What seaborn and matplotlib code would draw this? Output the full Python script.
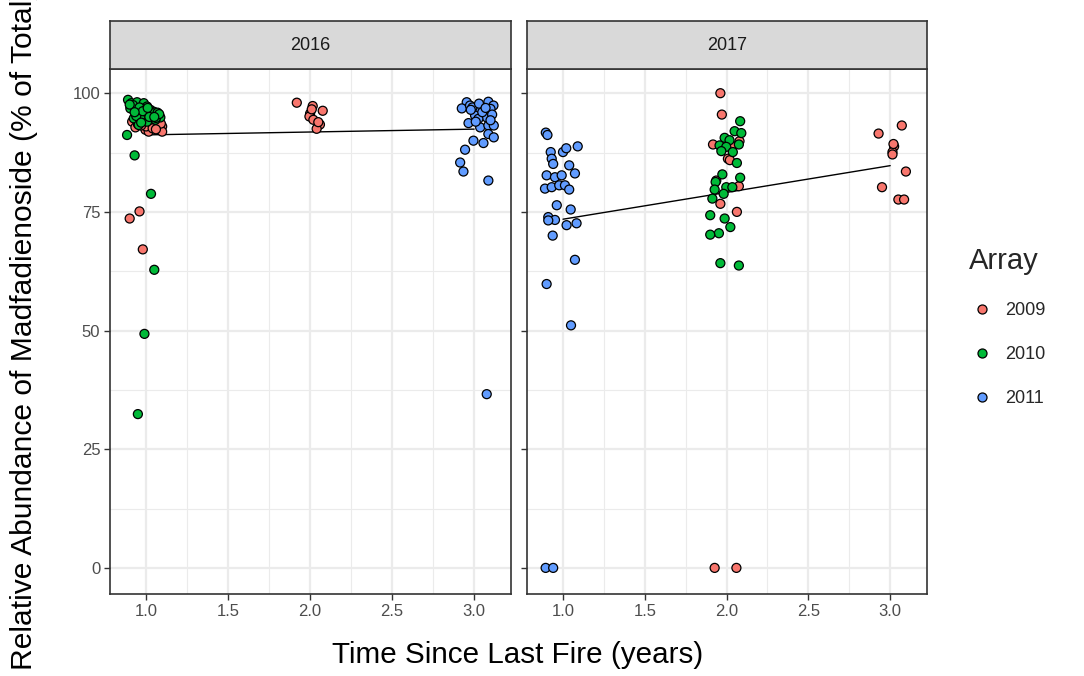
import matplotlib
matplotlib.use("Agg")
import numpy as np
import pandas as pd
import seaborn as sns
import matplotlib.pyplot as plt
from matplotlib.lines import Line2D
from matplotlib.ticker import MultipleLocator

sns.set_theme(style="white")
plt.rcParams['font.family'] = ['Liberation Sans', 'DejaVu Sans']

# ---------------- data ----------------
years = ["2016", "2017"]
arrays = ["2009", "2010", "2011"]
colors = ["#F8766D", "#00BA38", "#619CFF"]
x_ticks = [1.0, 1.5, 2.0, 2.5, 3.0]
y_ticks = [0, 25, 50, 75, 100]

# 2016 panel (x = jittered time since fire)
p16_a2009_x = [0.915, 0.935, 0.996, 1.016, 1.098, 1.098, 1.057, 1.077, 1.047, 0.96, 0.90, 0.98,
               0.95, 1.0, 1.04, 1.09, 0.97, 1.06,
               1.919, 2.016, 2.077, 2.0, 1.996, 2.02, 2.06, 2.04, 2.05, 2.01]
p16_a2009_y = [94.0, 92.8, 92.3, 91.9, 93.0, 91.9, 92.8, 94.0, 93.7, 75.1, 73.6, 67.1,
               93.5, 93.0, 92.6, 93.6, 93.2, 92.4,
               98.0, 97.3, 96.3, 95.7, 95.1, 94.4, 93.4, 92.5, 93.9, 96.6]
p16_a2010_x = [0.89, 0.91, 0.945, 0.986, 1.006, 1.026, 1.047, 1.067, 1.087, 0.904, 0.935, 0.965,
               0.996, 1.026, 1.057, 0.925, 0.976, 1.006, 0.955, 0.884, 0.93, 1.03, 1.05, 0.99, 0.95,
               0.92, 0.96, 1.0, 1.04, 1.07, 0.94, 0.98, 1.02, 1.06, 0.90, 1.08, 0.97,
               0.93, 1.01, 1.05]
p16_a2010_y = [98.6, 97.9, 98.1, 97.9, 97.2, 96.5, 96.1, 95.4, 94.9, 96.8, 96.3, 95.8,
               95.4, 94.7, 94.4, 94.7, 94.4, 94.0, 93.3, 91.2, 86.9, 78.8, 62.8, 49.3, 32.4,
               97.5, 97.0, 96.6, 95.8, 95.9, 95.2, 96.2, 95.0, 94.8, 97.6, 95.6, 93.8,
               96.0, 96.9, 95.0]
p16_a2011_x = [2.955, 2.925, 3.087, 3.118, 3.047, 3.016, 3.10, 3.077, 3.006, 2.966, 3.037, 3.087,
               3.12, 3.087, 3.12, 2.996, 3.057, 2.945, 2.915, 2.935, 3.087, 2.975, 3.026, 3.077,
               2.99, 3.05, 3.11, 3.03, 3.07, 2.98, 3.10, 3.01]
p16_a2011_y = [98.1, 96.8, 98.2, 97.4, 97.0, 96.3, 96.7, 94.9, 95.3, 93.7, 92.8, 93.2,
               93.2, 91.4, 90.7, 90.0, 89.5, 88.1, 85.4, 83.5, 81.6, 97.4, 94.6, 36.6,
               97.0, 96.0, 95.5, 97.8, 96.9, 96.5, 94.3, 94.0]

# 2017 panel
p17_a2009_x = [1.962, 1.971, 1.917, 2.079, 2.008, 1.937, 2.075, 1.962, 2.063, 2.02, 2.03, 1.927, 2.06,
               3.071, 2.929, 3.024, 3.014, 3.014, 3.096, 2.95, 3.05, 3.085, 3.02]
p17_a2009_y = [100.0, 95.5, 89.2, 89.9, 86.2, 81.6, 80.4, 76.7, 75.0, 85.9, 89.0, 0.0, 0.0,
               93.2, 91.5, 88.8, 87.6, 87.1, 83.5, 80.2, 77.6, 77.6, 89.3]
p17_a2010_x = [2.083, 2.049, 2.09, 1.988, 2.018, 1.957, 1.998, 2.075, 1.968, 2.038, 2.063, 1.974,
               2.083, 1.933, 1.998, 2.035, 1.927, 1.982, 1.913, 1.90, 1.988, 2.023, 1.953, 1.90,
               1.962, 2.075]
p17_a2010_y = [94.1, 92.0, 91.6, 90.6, 90.1, 89.0, 88.7, 89.2, 87.8, 87.6, 85.3, 82.9,
               82.2, 81.3, 80.2, 80.2, 79.7, 78.8, 77.8, 74.3, 73.6, 71.8, 70.5, 70.2,
               64.2, 63.7]
p17_a2011_x = [0.925, 1.0, 0.931, 0.94, 1.038, 1.073, 0.90, 0.951, 0.992, 0.89, 0.931, 0.977,
               1.012, 1.038, 0.962, 1.047, 0.91, 0.951, 0.91, 1.022, 1.083, 0.937, 1.073, 0.90,
               1.049, 0.894, 0.94, 0.895, 0.905, 1.02, 1.09]
p17_a2011_y = [87.6, 87.6, 86.2, 85.1, 84.8, 83.1, 82.7, 82.3, 82.7, 79.9, 80.2, 80.6,
               80.6, 79.7, 76.4, 75.5, 73.9, 73.3, 73.2, 72.2, 72.6, 70.0, 64.9, 59.8,
               51.1, 0.0, 0.0, 91.7, 91.2, 88.4, 88.8]

groups = {
    ("2016", "2009"): (p16_a2009_x, p16_a2009_y),
    ("2016", "2010"): (p16_a2010_x, p16_a2010_y),
    ("2016", "2011"): (p16_a2011_x, p16_a2011_y),
    ("2017", "2009"): (p17_a2009_x, p17_a2009_y),
    ("2017", "2010"): (p17_a2010_x, p17_a2010_y),
    ("2017", "2011"): (p17_a2011_x, p17_a2011_y),
}
rows = []
for (yr, arr), (xs, ys) in groups.items():
    for xv, yv in zip(xs, ys):
        rows.append({"year": yr, "array": arr, "time": xv, "abund": yv})
df = pd.DataFrame(rows)
# the fitted line uses the un-jittered time since fire
df["time_fire"] = df["time"].round()

# ---------------- layout ----------------
W, H = 1084, 676
fig = plt.figure(figsize=(W / 100, H / 100), dpi=100)


def rect(l, t, r, b):
    return [l / W, 1 - b / H, (r - l) / W, (b - t) / H]


panel_px = [(110, 69, 511, 594), (527, 69, 927, 594)]
strip_px = [(110, 21, 511, 69), (527, 21, 927, 69)]
pal = dict(zip(arrays, colors))

for i, yr in enumerate(years):
    ax = fig.add_axes(rect(*panel_px[i]))
    sub = df[df["year"] == yr]
    ax.set_facecolor("white")
    ax.xaxis.set_major_locator(MultipleLocator(0.5))
    ax.xaxis.set_minor_locator(MultipleLocator(0.25))
    ax.yaxis.set_major_locator(MultipleLocator(25))
    ax.yaxis.set_minor_locator(MultipleLocator(12.5))
    ax.grid(which="major", color="#EBEBEB", lw=1.6, zorder=0)
    ax.grid(which="minor", color="#EBEBEB", lw=0.8, zorder=0)
    ax.set_axisbelow(True)

    sns.regplot(data=sub, x="time_fire", y="abund", scatter=False, ci=None, truncate=True,
                color="black", line_kws={"lw": 1.0, "zorder": 2}, ax=ax)
    sns.scatterplot(data=sub, x="time", y="abund", hue="array", hue_order=arrays,
                    palette=pal, s=42, edgecolor="black", linewidth=0.9,
                    legend=False, ax=ax, zorder=3)
    ax.set_xlim(0.78, 3.225)
    ax.set_ylim(-5.5, 105.1)
    ax.set_xlabel("")
    ax.set_ylabel("")
    ax.set_xticks(x_ticks)
    ax.set_xticklabels([f"{t:.1f}" for t in x_ticks])
    ax.set_yticks(y_ticks)
    if i == 0:
        ax.set_yticklabels([str(t) for t in y_ticks])
    else:
        ax.set_yticklabels([])
    ax.tick_params(axis="both", which="major", length=4, width=1, color="#333333",
                   labelcolor="#4D4D4D", labelsize=12, direction="out", pad=3)
    ax.tick_params(axis="y", left=True)
    ax.tick_params(axis="x", bottom=True)
    ax.tick_params(which="minor", length=0)
    for sp in ax.spines.values():
        sp.set_color("#333333")
        sp.set_linewidth(1.2)

    sax = fig.add_axes(rect(*strip_px[i]))
    sax.set_facecolor("#D9D9D9")
    sax.set_xticks([])
    sax.set_yticks([])
    for sp in sax.spines.values():
        sp.set_color("#333333")
        sp.set_linewidth(1.2)
    sax.text(0.5, 0.5, yr, ha="center", va="center", fontsize=13, color="#1A1A1A",
             transform=sax.transAxes)

fig.text(518 / W, 1 - 655 / H, "Time Since Last Fire (years)", ha="center", va="center",
         fontsize=21.3, color="black")
fig.text(24 / W, 1 - 330 / H, "Relative Abundance of Madfadienoside (% of Total)",
         ha="center", va="center", rotation=90, fontsize=21.6, color="black")

handles = [Line2D([], [], marker="o", linestyle="", markerfacecolor=c, markeredgecolor="black",
                  markeredgewidth=0.9, markersize=6.5) for c in colors]
leg = fig.legend(handles, arrays, title="Array", loc="upper left",
                 bbox_to_anchor=(960 / W, 1 - 238 / H), frameon=False, fontsize=13,
                 title_fontsize=21, labelspacing=1.5, handletextpad=0.6, borderpad=0,
                 handlelength=1.4)
leg._legend_box.align = "left"

fig.savefig("out.png", dpi=100)
